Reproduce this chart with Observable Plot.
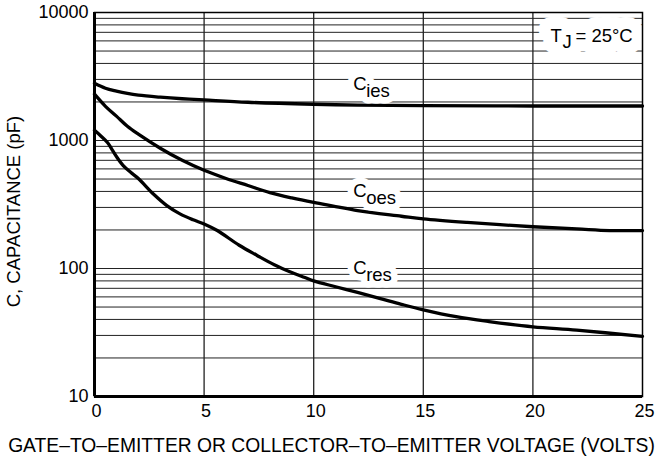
<!DOCTYPE html>
<html><head><meta charset="utf-8">
<script src="https://cdn.jsdelivr.net/npm/d3@7"></script>
<script src="https://cdn.jsdelivr.net/npm/@observablehq/plot@0.6"></script>
<style>
body{margin:0;background:#fff}
#chart svg{font-family:"Liberation Sans",Arial,Helvetica,sans-serif;background:#fff}
</style>
</head><body><div id="chart"></div>
<script>
// ---- data ----
const xDomain = [0, 25];
const yDomain = [10, 10000];
const xTicks = [0, 5, 10, 15, 20, 25];
const yTicks = [10, 100, 1000, 10000];
const yGrid = [20,30,40,50,60,70,80,90,100,200,300,400,500,600,700,800,900,1000,2000,3000,4000,5000,6000,7000,8000,9000];

const ciesV = [0, 0.5, 1, 1.5, 2, 3, 4, 5, 7, 10, 12, 15, 20, 25];
const ciesC = [2800, 2560, 2430, 2330, 2260, 2180, 2120, 2075, 1990, 1920, 1890, 1870, 1860, 1860];

const coesV = [0, 0.5, 1, 1.5, 2, 3, 4, 5, 6, 7, 8, 9, 10, 11, 12, 14, 15, 17, 20, 22, 23.5, 25];
const coesC = [2300, 1850, 1550, 1290, 1120, 870, 700, 585, 505, 445, 392, 356, 328, 305, 283, 256, 244, 229, 212, 204, 198, 198];

const cresV = [0, 0.3, 0.6, 0.8, 1, 1.3, 1.65, 2, 2.7, 3.3, 3.9, 4.5, 5, 5.6, 6.6, 7.4, 8.2, 9, 9.6, 10, 11, 12, 13, 14, 15, 16.5, 18, 20, 22, 25];
const cresC = [1200, 1080, 960, 850, 750, 640, 564, 505, 380, 310, 267, 240, 223, 198, 152, 127, 107, 93, 85, 80, 72, 65, 58.5, 52.5, 47.5, 42, 38.5, 35, 33, 29.5];

const labelBase = ["C", "C", "C"];
const labelSub = ["ies", "oes", "res"];
const labelX = [11.8, 11.8, 11.8];
const labelY = [2735, 400, 100];

const tjParts = ["T", "J", "= 25°C"];
const tjX = 20.8, tjY = 6550;

const xTitle = "GATE\u2013TO\u2013EMITTER OR COLLECTOR\u2013TO\u2013EMITTER VOLTAGE (VOLTS)";
const yTitle = "C, CAPACITANCE (pF)";

// ---- tables ----
const rows = [];
ciesV.forEach((v, i) => rows.push({s: "Cies", v, c: ciesC[i]}));
coesV.forEach((v, i) => rows.push({s: "Coes", v, c: coesC[i]}));
cresV.forEach((v, i) => rows.push({s: "Cres", v, c: cresC[i]}));
const labels = labelBase.map((b, i) => ({base: b, sub: labelSub[i], x: labelX[i], y: labelY[i]}));
const tj = [{x: tjX, y: tjY}];

const base = {fontSize: 18.5, textAnchor: "start"};
const halo = w => ({...base, fill: "white", stroke: "white", strokeWidth: w, strokeLinejoin: "round"});
const ink = {...base, fill: "black"};

const chart = Plot.plot({
  width: 662, height: 466,
  marginLeft: 94, marginRight: 20, marginTop: 12, marginBottom: 70,
  x: {domain: xDomain},
  y: {type: "log", domain: yDomain},
  style: {fontSize: "18px", color: "black", overflow: "visible"},
  marks: [
    Plot.ruleY(yGrid, {stroke: "#222", strokeWidth: 1}),
    Plot.ruleX(xTicks.slice(1, -1), {stroke: "#222", strokeWidth: 1.3}),
    Plot.line(rows, {x: "v", y: "c", z: "s", stroke: "black", strokeWidth: 3.3, curve: "catmull-rom"}),
    // white halos (masking grid lines behind labels)
    Plot.text(labels, {x: "x", y: "y", text: "base", ...halo(13)}),
    Plot.text(labels, {x: "x", y: "y", text: "sub", dx: 13, dy: 7, ...halo(13)}),
    Plot.text(tj, {x: "x", y: "y", text: () => tjParts[0], ...halo(24)}),
    Plot.text(tj, {x: "x", y: "y", text: () => tjParts[1], dx: 12, dy: 6, ...halo(24)}),
    Plot.text(tj, {x: "x", y: "y", text: () => tjParts[2], dx: 25, ...halo(24)}),
    // label ink
    Plot.text(labels, {x: "x", y: "y", text: "base", ...ink}),
    Plot.text(labels, {x: "x", y: "y", text: "sub", dx: 13, dy: 7, ...ink}),
    Plot.text(tj, {x: "x", y: "y", text: () => tjParts[0], ...ink}),
    Plot.text(tj, {x: "x", y: "y", text: () => tjParts[1], dx: 12, dy: 6, ...ink}),
    Plot.text(tj, {x: "x", y: "y", text: () => tjParts[2], dx: 25, ...ink}),
    Plot.frame({stroke: "black", strokeWidth: 1.5}),
    Plot.ruleX([xDomain[0]], {stroke: "black", strokeWidth: 3}),
    Plot.ruleY([yDomain[0]], {stroke: "black", strokeWidth: 3}),
    Plot.axisX({ticks: xTicks, tickSize: 0, tickPadding: 8, fontSize: 18, label: null, dx: 2}),
    Plot.axisY({ticks: yTicks, tickSize: 0, tickPadding: 6, fontSize: 18, label: null, tickFormat: d => String(d)}),
    Plot.text([xTitle], {frameAnchor: "bottom", text: d => d, dx: -37, dy: 49, fontSize: 19.3, textAnchor: "middle", lineAnchor: "middle"}),
    Plot.text([yTitle], {frameAnchor: "left", text: d => d, dx: -80, dy: 7, rotate: -90, fontSize: 18.5, textAnchor: "middle", lineAnchor: "middle"})
  ]
});
document.getElementById("chart").appendChild(chart);
</script>
</body></html>
